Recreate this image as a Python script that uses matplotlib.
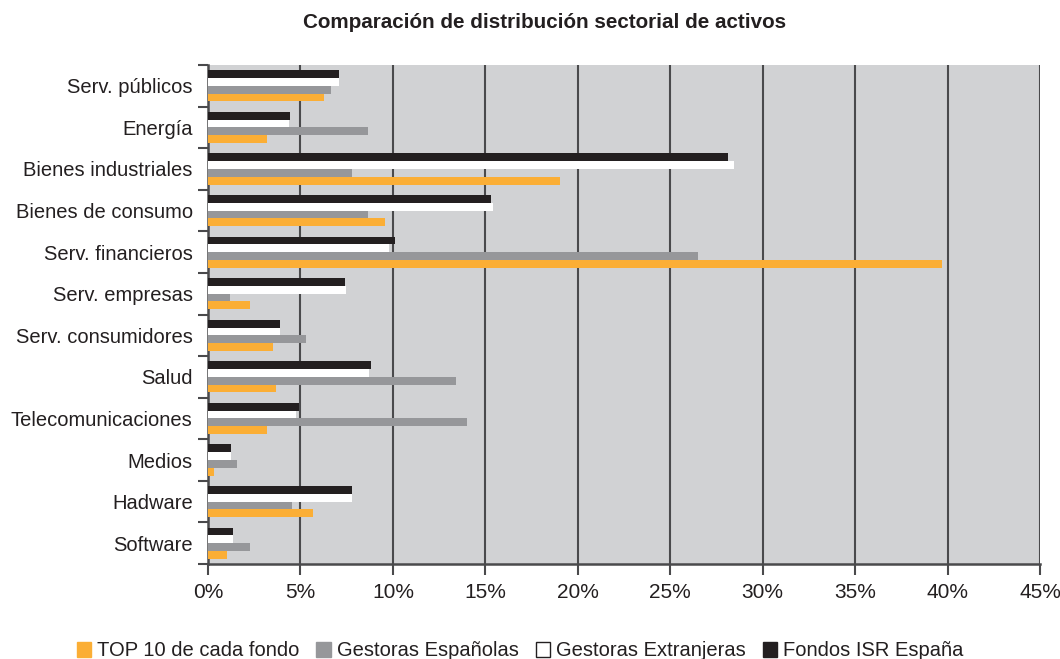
import matplotlib
matplotlib.use("Agg")
import matplotlib.pyplot as plt
import numpy as np
from matplotlib.patches import Patch
from matplotlib.ticker import FixedLocator, FuncFormatter

categories = ["Serv. públicos", "Energía", "Bienes industriales", "Bienes de consumo",
              "Serv. financieros", "Serv. empresas", "Serv. consumidores", "Salud",
              "Telecomunicaciones", "Medios", "Hadware", "Software"]
fondos_isr = [7.1, 4.45, 28.1, 15.3, 10.1, 7.4, 3.9, 8.8, 4.9, 1.25, 7.8, 1.35]
gestoras_ext = [7.1, 4.4, 28.45, 15.4, 9.8, 7.45, 3.9, 8.7, 4.75, 1.25, 7.8, 1.35]
gestoras_esp = [6.65, 8.65, 7.8, 8.65, 26.5, 1.2, 5.3, 13.4, 14.0, 1.55, 4.55, 2.25]
top10 = [6.25, 3.2, 19.05, 9.6, 39.7, 2.25, 3.5, 3.7, 3.2, 0.3, 5.7, 1.05]
series_names = ["TOP 10 de cada fondo", "Gestoras Españolas", "Gestoras Extranjeras", "Fondos ISR España"]
xticks_pct = [0, 5, 10, 15, 20, 25, 30, 35, 40, 45]

c_orange = "#FBAE35"
c_gray = "#96979A"
c_white = "#FFFFFF"
c_black = "#231F20"
bg = "#D1D2D4"
grid_c = "#4A4A4C"

plt.rcParams['font.family'] = ["Liberation Sans", "DejaVu Sans"]

fig = plt.figure(figsize=(10.6, 6.59), dpi=100)
ax = fig.add_axes([208/1060, 1-564/659, (1040-208)/1060, (564-65)/659])
ax.set_facecolor(bg)

n = len(categories)
y = np.arange(n)
h = 0.187
ax.barh(y - 1.5*h, fondos_isr, height=h, color=c_black, zorder=3)
ax.barh(y - 0.5*h, gestoras_ext, height=h, color=c_white, zorder=3)
ax.barh(y + 0.5*h, gestoras_esp, height=h, color=c_gray, zorder=3)
ax.barh(y + 1.5*h, top10, height=h, color=c_orange, zorder=3)

ax.set_xlim(0, 45)
ax.set_ylim(n - 0.5, -0.5)
ax.set_xticks(xticks_pct)
ax.xaxis.set_major_formatter(FuncFormatter(lambda v, p: f"{int(v)}%"))
for xv in xticks_pct[1:]:
    ax.axvline(xv, color=grid_c, lw=1.5, zorder=2)

ax.set_yticks(y)
ax.set_yticklabels(categories)
ax.tick_params(axis='y', which='major', length=0, pad=11, labelsize=14.5, labelcolor="#231F20")
ax.yaxis.set_minor_locator(FixedLocator(np.arange(-0.5, n, 1.0)))
ax.tick_params(axis='y', which='minor', length=7, width=1.5, color=grid_c)
ax.tick_params(axis='x', which='major', length=8, width=1.5, color=grid_c, pad=6,
               labelsize=15, labelcolor="#231F20")

for s in ["top", "right"]:
    ax.spines[s].set_visible(False)
for s in ["left", "bottom"]:
    ax.spines[s].set_color(grid_c)
    ax.spines[s].set_linewidth(1.8)

fig.text(545/1060, 1-23/659, "Comparación de distribución sectorial de activos",
         ha="center", va="center", fontsize=14.9, fontweight="bold", color="#231F20")

handles = [Patch(facecolor=c_orange, edgecolor=c_orange),
           Patch(facecolor=c_gray, edgecolor=c_gray),
           Patch(facecolor=c_white, edgecolor=c_black, linewidth=1),
           Patch(facecolor=c_black, edgecolor=c_black)]
leg = fig.legend(handles, series_names, loc="center", bbox_to_anchor=(520/1060, 1-651/659),
                 ncol=4, frameon=False, handlelength=0.7, handleheight=0.7,
                 handletextpad=0.3, columnspacing=0.85,
                 prop={"size": 14.5})
for t in leg.get_texts():
    t.set_color("#231F20")

fig.savefig("out.png", dpi=100)
